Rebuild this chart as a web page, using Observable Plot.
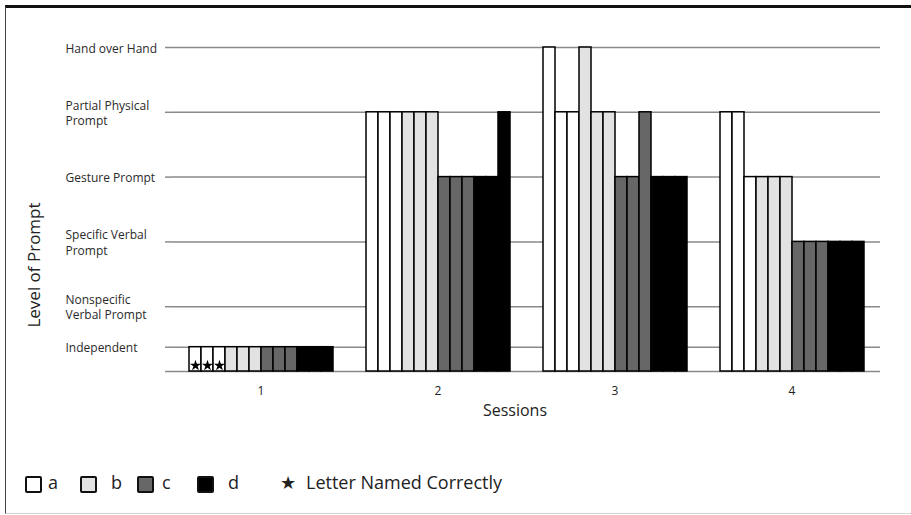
<!DOCTYPE html>
<html>
<head>
<meta charset="utf-8">
<script src="https://cdn.jsdelivr.net/npm/d3@7"></script>
<script src="https://cdn.jsdelivr.net/npm/@observablehq/plot@0.6"></script>
<style>
  body { margin: 0; background: #fff; font-family: "Open Sans", sans-serif; }
  #wrap { position: relative; width: 911px; height: 515px; overflow: hidden; background: #fff; }
  #chart { position: absolute; left: 0; top: 0; }
  #frame { position: absolute; left: 5px; top: 5px; width: 930px; height: 509px; box-sizing: border-box;
           border-top: 3px solid #111; border-left: 1px solid #444; border-bottom: 1px solid #d4d4d4; pointer-events: none; }
  #ytitle { position: absolute; left: 33px; top: 265px; transform: translate(-50%, -50%) rotate(-90deg);
            font-size: 17px; color: #222; white-space: nowrap; }
  #xtitle { position: absolute; left: 515px; top: 410px; transform: translate(-50%, -50%); font-size: 16px; color: #222; }
  #legend { position: absolute; left: 0; top: 470px; width: 911px; height: 26px; font-size: 18px; color: #222; }
  #legend .sw { position: absolute; top: 6px; width: 13px; height: 13px; border: 2px solid #111; border-radius: 2px; box-sizing: content-box; }
  #legend .lb { position: absolute; top: 0; line-height: 24px; }
</style>
</head>
<body>
<div id="wrap">
  <div id="chart"></div>
  <div id="ytitle">Level of Prompt</div>
  <div id="xtitle">Sessions</div>
  <div id="legend"></div>
  <div id="frame"></div>
</div>
<script>
// ---- data ----
const sessions = ["1", "2", "3", "4"];
const letters = ["a", "b", "c", "d"];
const letterColors = ["#ffffff", "#e2e2e2", "#676767", "#000000"];
const levels = ["Independent", "Nonspecific Verbal Prompt", "Specific Verbal Prompt", "Gesture Prompt", "Partial Physical Prompt", "Hand over Hand"];
const levelValues = [0.375, 1, 2, 3, 4, 5];
const levelTickLabels = ["Independent", "Nonspecific\nVerbal Prompt", "Specific Verbal\nPrompt", "Gesture Prompt", "Partial Physical\nPrompt", "Hand over Hand"];
// level index (into levels) for each of 3 trials, per session
const letterA = [[0, 0, 0], [4, 4, 4], [5, 4, 4], [4, 4, 3]];
const letterB = [[0, 0, 0], [4, 4, 4], [5, 4, 4], [3, 3, 3]];
const letterC = [[0, 0, 0], [3, 3, 3], [3, 3, 4], [2, 2, 2]];
const letterD = [[0, 0, 0], [3, 3, 4], [3, 3, 3], [2, 2, 2]];
// trials where the letter was named correctly
const starSession = ["1", "1", "1"];
const starLetter = ["a", "a", "a"];
const starTrial = [1, 2, 3];

// ---- build tables ----
const letterLevels = [letterA, letterB, letterC, letterD];
const rows = [];
sessions.forEach((s, si) => letters.forEach((l, li) => letterLevels[li][si].forEach((lv, t) => {
  rows.push({session: s, bar: li * 3 + t, letter: l, level: levels[lv], value: levelValues[lv]});
})));
const stars = starSession.map((s, i) => ({session: s, bar: letters.indexOf(starLetter[i]) * 3 + starTrial[i] - 1}));
const yTicks = [0, ...levelValues];
const tickLabel = v => v === 0 ? "" : levelTickLabels[levelValues.indexOf(v)];

const chart = Plot.plot({
  width: 911,
  height: 425,
  marginLeft: 172,
  marginRight: 31,
  marginTop: 47,
  marginBottom: 54,
  style: {fontFamily: "Open Sans", fontSize: "12px", color: "#222", background: "transparent"},
  fx: {domain: sessions, padding: 0, label: null},
  x: {type: "band", domain: d3.range(12), paddingInner: 0, paddingOuter: 1.22, axis: null},
  y: {domain: [0, 5], axis: null},
  color: {domain: letters, range: letterColors},
  marks: [
    Plot.gridY(yTicks, {stroke: "#8a8a8a", strokeOpacity: 1, strokeWidth: 1.5}),
    Plot.axisY(yTicks, {tickSize: 7, stroke: "#8a8a8a", strokeWidth: 1.5, tickFormat: () => "", label: null}),
    Plot.axisY(yTicks, {tickSize: 0, tickPadding: 10, fill: "#2a2a2a", fontSize: 12,
                        tickFormat: tickLabel, textAnchor: "start", dx: -97, lineHeight: 1.3, label: null}),
    Plot.barY(rows, {fx: "session", x: "bar", y: "value", fill: "letter", stroke: "#000", strokeWidth: 1.5}),
    Plot.dot(stars, {fx: "session", x: "bar", y: 0, symbol: "star", r: 3.5, fill: "#000", stroke: "none", dy: -6}),
    Plot.axisFx({anchor: "bottom", tickSize: 0, tickPadding: 15, fontSize: 12, label: null, fill: "#222"})
  ]
});
document.getElementById("chart").appendChild(chart);

// ---- legend ----
const legend = document.getElementById("legend");
const swLeft = [25, 80, 137, 197];
const lbLeft = [48, 111, 162, 228];
letters.forEach((l, i) => {
  const sw = document.createElement("div");
  sw.className = "sw";
  sw.style.left = swLeft[i] + "px";
  sw.style.background = letterColors[i];
  legend.appendChild(sw);
  const lb = document.createElement("div");
  lb.className = "lb";
  lb.style.left = lbLeft[i] + "px";
  lb.textContent = l;
  legend.appendChild(lb);
});
const st = document.createElement("div");
st.className = "lb";
st.style.left = "280px";
st.style.fontSize = "18px";
st.textContent = "★";
legend.appendChild(st);
const stl = document.createElement("div");
stl.className = "lb";
stl.style.left = "306px";
stl.textContent = "Letter Named Correctly";
legend.appendChild(stl);
</script>
</body>
</html>
